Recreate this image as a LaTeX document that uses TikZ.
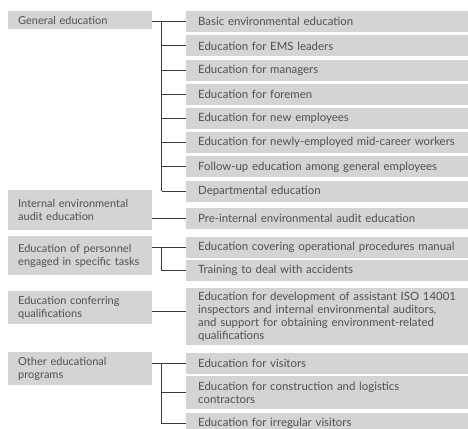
\documentclass[tikz,border=0pt]{standalone}
\usepackage{fontspec}
\setmainfont{Lato}
\usetikzlibrary{positioning}
\definecolor{BoxGray}{HTML}{D4D4D4}
\definecolor{TextGray}{HTML}{505050}
\definecolor{LineGray}{HTML}{3A3A3A}
\begin{document}
\begin{tikzpicture}[x=1pt,y=-1pt,
  lbox/.style={fill=BoxGray,anchor=north west,text width=124pt,inner xsep=10pt,inner ysep=1pt,align=left,text=TextGray,font=\fontsize{11}{13}\selectfont},
  rbox/.style={lbox,text width=258pt,inner xsep=12pt,font=\fontsize{11.4}{13}\selectfont},
  link/.style={LineGray,line width=1pt}]
\useasboundingbox (0,0) rectangle (468,428);
\clip (0,0) rectangle (468,428);
\coordinate (sp) at (161.5,0);
% left column
\node[lbox,minimum height=18pt] (lA) at (8,11) {General education};
\node[lbox,minimum height=40pt] (lB) at (8,190) {Internal environmental\\audit education};
\node[lbox,minimum height=39pt] (lC) at (8,236) {Education of personnel\\engaged in specific tasks};
\node[lbox,minimum height=33pt] (lD) at (8,291) {Education conferring\\qualifications};
\node[lbox,minimum height=33pt] (lE) at (8,352) {Other educational\\programs};
% right column
\foreach \i/\lab in {1/Basic environmental education,2/Education for EMS leaders,3/Education for managers,4/Education for foremen,5/Education for new employees,6/Education for newly-employed mid-career workers,7/Follow-up education among general employees,8/Departmental education}{
  \pgfmathsetmacro\t{11+24.2*(\i-1)}
  \node[rbox,minimum height=21pt] (r\i) at (186,\t) {\lab};}
\node[rbox,minimum height=21pt] (r9) at (186,208) {Pre-internal environmental audit education};
\node[rbox,minimum height=21pt] (r10) at (186,236.5) {Education covering operational procedures manual};
\node[rbox,minimum height=21pt] (r11) at (186,259.5) {Training to deal with accidents};
\node[rbox,minimum height=57pt] (r12) at (186,288) {Education for development of assistant ISO 14001\\inspectors and internal environmental auditors,\\and support for obtaining environment-related\\qualifications};
\node[rbox,minimum height=21pt] (r13) at (186,353) {Education for visitors};
\node[rbox,minimum height=33pt] (r14) at (186,376) {Education for construction and logistics\\contractors};
\node[rbox,minimum height=21pt] (r15) at (186,413) {Education for irregular visitors};
% links
\draw[link] (lA.east |- r1.west) -- (r1.west);
\draw[link] (sp |- r1.west) -- (sp |- r8.west);
\foreach \i in {2,...,8}{\draw[link] (sp |- r\i.west) -- (r\i.west);}
\draw[link] (lB.east |- r9.west) -- (r9.west);
\draw[link] (lC.east |- r10.west) -- (r10.west);
\draw[link] (sp |- r10.west) -- (sp |- r11.west) -- (r11.west);
\draw[link] ([yshift=-4pt]lD.east) -- ([yshift=-4pt]lD.east -| r12.west);
\draw[link] (lE.east |- r13.west) -- (r13.west);
\draw[link] (sp |- r13.west) -- (sp |- r15.west) -- (r15.west);
\draw[link] (sp |- r14.west) -- (r14.west);
\end{tikzpicture}
\end{document}
